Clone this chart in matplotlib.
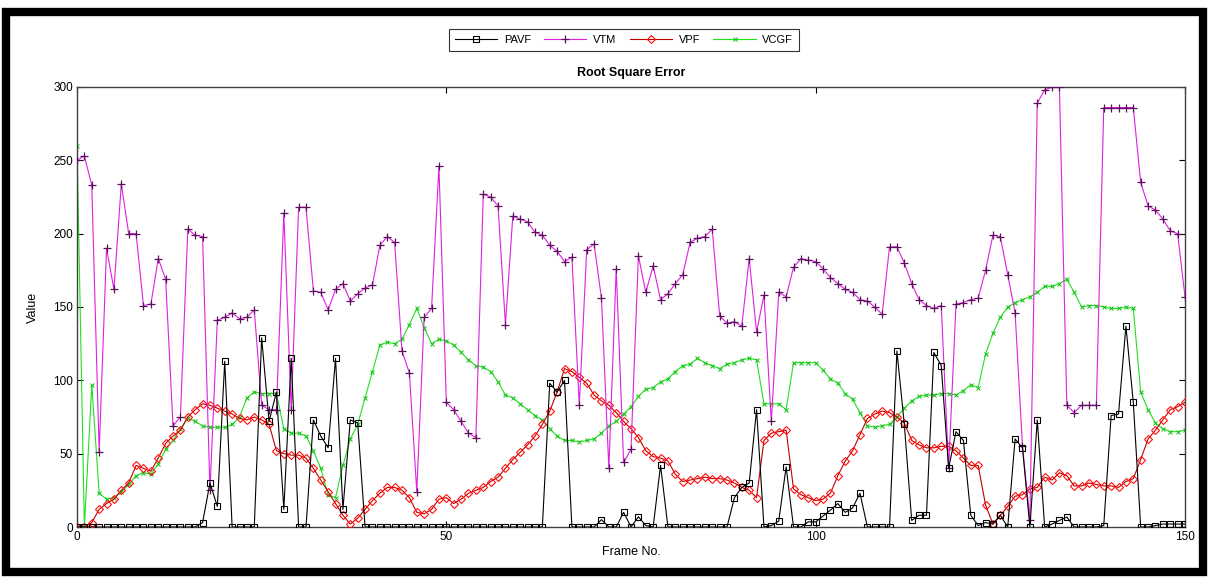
import numpy as np
import matplotlib
matplotlib.use("Agg")
import matplotlib.pyplot as plt
from matplotlib.patches import Rectangle

plt.rcParams['font.family'] = ['Liberation Sans', 'DejaVu Sans']

frames = list(range(0, 151))

pavf = [0,
        0, 0, 0, 0, 0, 0, 0, 0, 0, 0,
        0, 0, 0, 0, 0, 0, 3, 30, 14, 113,
        0, 0, 0, 0, 129, 72, 92, 12, 115, 0,
        0, 73, 62, 54, 115, 12, 73, 71, 0, 0,
        0, 0, 0, 0, 0, 0, 0, 0, 0, 0,
        0, 0, 0, 0, 0, 0, 0, 0, 0, 0,
        0, 0, 0, 98, 92, 100, 0, 0, 0, 0,
        5, 0, 0, 10, 0, 7, 1, 0, 42, 0,
        0, 0, 0, 0, 0, 0, 0, 0, 20, 27,
        30, 80, 0, 1, 4, 41, 0, 0, 3.5, 3.5,
        7.5, 11.5, 16, 10, 13, 23, 0, 0, 0, 0,
        120, 70, 4.5, 8, 8, 119, 110, 40, 65, 59,
        8, 1, 3, 2, 8, 0, 60, 54, 0, 73,
        0, 2, 4.5, 6.8, 0, 0, 0, 0, 1, 76,
        77, 137, 85, 0, 0, 1, 2, 2, 2, 2]

vtm = [250,
       253, 233, 51, 190, 162, 234, 200, 200, 151, 152,
       183, 169, 69, 75, 203, 199, 198, 25, 141, 143,
       146, 142, 143, 148, 83, 80, 80, 214, 80, 218,
       218, 161, 160, 148, 162, 166, 154, 159, 163, 165,
       192, 198, 194, 120, 105, 24, 143, 149, 246, 85,
       80, 72, 64, 61, 227, 225, 219, 138, 212, 210,
       208, 201, 199, 192, 188, 181, 184, 83, 189, 193,
       156, 40, 176, 44, 53, 185, 160, 178, 155, 159,
       166, 172, 194, 197, 198, 203, 144, 139, 140, 137,
       183, 133, 158, 72, 160, 157, 177, 183, 182, 181,
       176, 170, 166, 162, 160, 155, 154, 150, 145, 191,
       191, 180, 166, 155, 151, 149, 151, 40, 152, 153,
       155, 156, 175, 199, 198, 172, 146, 55, 5, 289,
       298, 300, 300, 83, 78, 83, 83, 83, 286, 286,
       286, 286, 286, 235, 219, 216, 210, 202, 200, 157]

vpf = [0,
       0, 3, 12, 16, 19, 25, 30, 42, 40, 38,
       47, 57, 62, 66, 75, 80, 84, 83, 81, 79,
       77, 74, 73, 75, 73, 70, 52, 50, 49, 49,
       47, 40, 32, 24, 16, 8, 2, 6, 12, 18,
       23, 27, 27, 25, 20, 10, 9, 12, 19, 20,
       16, 19, 23, 25, 27, 31, 34, 40, 46, 51,
       56, 62, 70, 79, 92, 108, 106, 102, 98, 90,
       86, 83, 78, 72, 67, 61, 52, 48, 47, 45,
       36, 31, 32, 33, 34, 33, 33, 32, 30, 27,
       25, 20, 59, 64, 65, 66, 26, 22, 20, 18,
       19, 23, 35, 45, 52, 63, 74, 77, 79, 78,
       75, 71, 59, 56, 54, 54, 55, 55, 52, 47,
       42, 42, 15, 2, 8, 14, 21, 22, 26, 27,
       34, 32, 37, 35, 28, 28, 30, 29, 28, 28,
       27, 31, 33, 46, 60, 66, 73, 80, 82, 85]

vcgf = [260,
        0, 97, 23, 19, 20, 24, 29, 35, 37, 36,
        43, 53, 59, 67, 74, 72, 69, 68, 68, 68,
        70, 75, 88, 92, 91, 91, 91, 67, 64, 64,
        62, 52, 40, 22, 20, 42, 60, 70, 88, 106,
        124, 126, 125, 128, 138, 149, 136, 125, 128, 127,
        124, 119, 114, 110, 109, 106, 99, 90, 88, 84,
        80, 76, 73, 67, 62, 59, 59, 58, 59, 60,
        64, 69, 72, 77, 82, 89, 94, 95, 99, 101,
        106, 110, 111, 115, 112, 110, 108, 111, 112, 114,
        115, 114, 84, 84, 84, 80, 112, 112, 112, 112,
        107, 101, 98, 91, 87, 78, 69, 68, 69, 70,
        75, 81, 86, 89, 90, 90, 91, 91, 90, 93,
        97, 95, 118, 132, 143, 150, 153, 155, 157, 160,
        164, 164, 166, 169, 160, 150, 151, 151, 150, 149,
        149, 150, 149, 92, 80, 71, 67, 65, 65, 66]

x_ticks = [0, 50, 100, 150]
y_ticks = [0, 50, 100, 150, 200, 250, 300]

W, H = 1214, 580
fig = plt.figure(figsize=(W / 100, H / 100), dpi=100)
ax = fig.add_axes([77 / W, 1 - 527 / H, (1185 - 77) / W, (527 - 87) / H])

lw = 0.8
ax.plot(frames, pavf, '-', color='black', lw=lw, marker='s', ms=4.2,
        mfc='none', mec='black', mew=0.8, label='PAVF', zorder=5)
ax.plot(frames, vtm, '-', color='#e020e0', lw=lw, marker='+', ms=6,
        mec='#5a105a', mew=0.9, label='VTM', zorder=4)
ax.plot(frames, vpf, '-', color='#c00000', lw=lw, marker='D', ms=3.8,
        mfc='none', mec='#ff1010', mew=0.8, label='VPF', zorder=3)
ax.plot(frames, vcgf, '-', color='#20e020', lw=lw, marker='x', ms=3,
        mec='#10c010', mew=0.7, label='VCGF', zorder=2)

ax.set_xlim(0, 150)
ax.set_ylim(0, 300)
ax.set_xticks(x_ticks)
ax.set_yticks(y_ticks)
ax.tick_params(direction='in', top=True, right=True, length=4, width=0.8,
               labelsize=8.5, pad=3)
for s in ax.spines.values():
    s.set_linewidth(1.0)
    s.set_color('#404040')
ax.set_xlabel('Frame No.', fontsize=9, labelpad=2)
ax.set_ylabel('Value', fontsize=9, labelpad=10)
ax.set_title('Root Square Error', fontsize=9, fontweight='bold', pad=8)

leg = fig.legend(loc='center', bbox_to_anchor=(624 / W, 1 - 40 / H), ncol=4,
                 fontsize=8, frameon=True, fancybox=False, edgecolor='black',
                 handlelength=3.8, handletextpad=0.6, columnspacing=1.2,
                 borderpad=0.55)
leg.get_frame().set_linewidth(0.8)

fig.patches.append(Rectangle((6 / W, 1 - 572 / H), (1203 - 6) / W, (572 - 12) / H,
                             transform=fig.transFigure, fill=False,
                             edgecolor='black', linewidth=6, zorder=10))

fig.savefig('out.png', dpi=100)
